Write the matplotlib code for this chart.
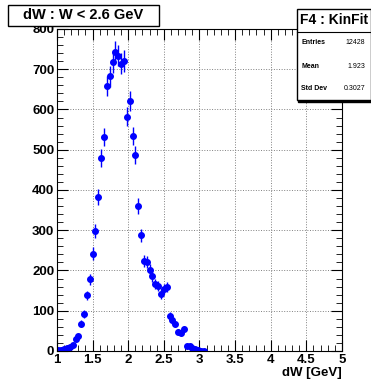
import numpy as np
import matplotlib.pyplot as plt
from matplotlib.ticker import MultipleLocator

# bin centres (bin width 0.04 GeV) and counts
dw_centers = [1.02, 1.06, 1.10, 1.14, 1.18, 1.22, 1.26, 1.30, 1.34, 1.38,
              1.42, 1.46, 1.50, 1.54, 1.58, 1.62, 1.66, 1.70, 1.74, 1.78,
              1.82, 1.86, 1.90, 1.94, 1.98, 2.02, 2.06, 2.10, 2.14, 2.18,
              2.22, 2.26, 2.30, 2.34, 2.38, 2.42, 2.46, 2.50, 2.54, 2.58,
              2.62, 2.66, 2.70, 2.74, 2.78, 2.82, 2.86, 2.90, 2.94, 2.98,
              3.02, 3.06]
counts = [2, 3, 4, 7, 11, 15, 30, 36, 68, 92,
          138, 178, 242, 298, 382, 480, 532, 658, 682, 718,
          742, 734, 714, 720, 582, 622, 534, 487, 360, 287,
          224, 222, 201, 186, 166, 162, 142, 155, 159, 88,
          77, 67, 48, 45, 54, 12, 12, 8, 4, 2,
          1, 1]

title = "dW : W < 2.6 GeV"
stats_name = "F4 : KinFit"
stats_rows = [("Entries", "12428"), ("Mean", "1.923"), ("Std Dev", "0.3027")]

plt.rcParams['font.family'] = ['Liberation Sans', 'DejaVu Sans']

W, H = 371, 383
fig = plt.figure(figsize=(W / 100, H / 100), dpi=100)
ax = fig.add_axes([0.1536, 0.0836, 0.7682, 0.8407])

errs = np.sqrt(np.array(counts, dtype=float))
ax.errorbar(dw_centers, counts, yerr=errs, fmt='o', color='blue',
            markersize=4, elinewidth=1, capsize=0)

ax.set_xlim(1, 5)
ax.set_ylim(0, 800)
ax.xaxis.set_minor_locator(MultipleLocator(0.1))
ax.yaxis.set_major_locator(MultipleLocator(100))
ax.yaxis.set_minor_locator(MultipleLocator(20))
ax.set_xticks([1, 1.5, 2, 2.5, 3, 3.5, 4, 4.5, 5])
ax.set_xticklabels(['1', '1.5', '2', '2.5', '3', '3.5', '4', '4.5', '5'])
ax.tick_params(which='both', direction='in', top=True, right=True,
               labelsize=9.5, pad=2)
ax.tick_params(which='major', length=8)
ax.tick_params(which='minor', length=4)
for lbl in ax.get_xticklabels() + ax.get_yticklabels():
    lbl.set_fontweight('bold')
ax.grid(True, which='major', linestyle=':', color='gray', linewidth=0.7)
ax.set_axisbelow(True)

ax.set_xlabel("dW [GeV]", fontsize=9.5, fontweight='bold', loc='right',
              labelpad=1)

# title box
tx0, tx1 = 8 / W, 159 / W
ty0, ty1 = 1 - 26 / H, 1 - 5 / H
fig.patches.append(plt.Rectangle((tx0, ty0), tx1 - tx0, ty1 - ty0,
                                 transform=fig.transFigure, fc='white', ec='black', lw=1))
fig.text((tx0 + tx1) / 2, (ty0 + ty1) / 2, title, fontsize=10.5, fontweight='bold',
         ha='center', va='center')

# stats box
sx0, sx1 = 297 / W, 1.0
sy_top, sy_bot = 1 - 9 / H, 1 - 100 / H
fig.patches.append(plt.Rectangle((sx0 + 0.004, sy_bot - 0.005), sx1 - sx0, sy_top - sy_bot,
                                 transform=fig.transFigure, fc='black', ec='black'))
fig.patches.append(plt.Rectangle((sx0, sy_bot), sx1 - sx0, sy_top - sy_bot,
                                 transform=fig.transFigure, fc='white', ec='black', lw=1))
sep = 1 - 32 / H
fig.add_artist(plt.Line2D([sx0, sx1], [sep, sep], transform=fig.transFigure,
                          color='black', lw=0.8))
fig.text(300 / W, (sy_top + sep) / 2, stats_name, fontsize=10,
         fontweight='bold', ha='left', va='center')
row_y = [1 - 43 / H, 1 - 66 / H, 1 - 89 / H]
for (name, val), yy in zip(stats_rows, row_y):
    fig.text(sx0 + 0.012, yy, name, fontsize=5, fontweight='bold', ha='left', va='center')
    fig.text(0.985, yy, val, fontsize=5, ha='right', va='center')

fig.savefig("out.png", dpi=100)
